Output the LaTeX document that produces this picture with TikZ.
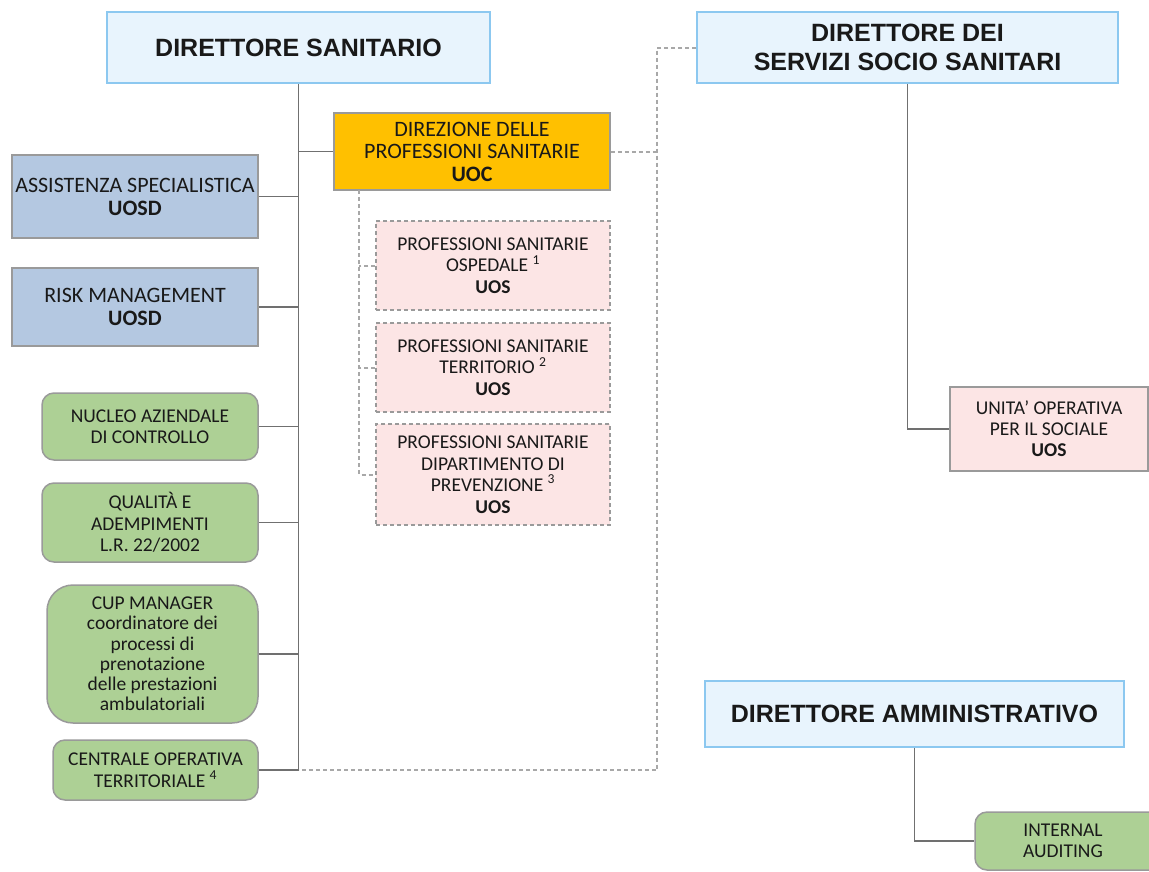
\documentclass[tikz,border=0pt]{standalone}
\usepackage{fontspec}
\setmainfont{Carlito}
\newfontfamily\dirfont{Liberation Sans}
\definecolor{dirfill}{HTML}{E8F4FD}
\definecolor{dirline}{HTML}{8CC8F0}
\definecolor{orangefill}{HTML}{FFC000}
\definecolor{uosdfill}{HTML}{B4C8E1}
\definecolor{greenfill}{HTML}{ADD095}
\definecolor{pinkfill}{HTML}{FCE5E5}
\definecolor{boxline}{HTML}{9A9A9A}
\definecolor{linkcol}{HTML}{707070}
\definecolor{dlinkcol}{HTML}{A8A8A8}
\begin{document}
\begin{tikzpicture}[x=1pt,y=-1pt,
  base/.style={inner sep=0pt, align=center, text=black!90},
  dirbox/.style={base, draw=dirline, fill=dirfill, line width=2pt,
     font=\dirfont\bfseries\fontsize{25}{29}\selectfont},
  uosdbox/.style={base, draw=boxline, fill=uosdfill, line width=1.5pt,
     font=\fontsize{22}{23}\selectfont},
  uocbox/.style={base, draw=boxline, fill=orangefill, line width=1.5pt,
     font=\fontsize{22}{22.5}\selectfont},
  greenbox/.style={base, draw=boxline, fill=greenfill, line width=1.5pt,
     rounded corners=12pt, font=\fontsize{19.5}{21.5}\selectfont},
  psbox/.style={base, draw=boxline, fill=pinkfill, line width=1.5pt,
     dash pattern=on 4pt off 3pt, font=\fontsize{19.5}{21.5}\selectfont},
  uosbox/.style={base, draw=boxline, fill=pinkfill, line width=1.5pt,
     font=\fontsize{19.5}{21}\selectfont},
  link/.style={draw=linkcol, line width=1.6pt},
  dlink/.style={draw=dlinkcol, line width=2pt, dash pattern=on 4pt off 3pt}
]
\useasboundingbox[fill=white] (0,0) rectangle (1149,871);

% directors
\node[dirbox, minimum width=383pt, minimum height=71pt] (ds) at (298.5,47.5) {DIRETTORE SANITARIO};
\node[dirbox, minimum width=421pt, minimum height=71pt] (dsss) at (907.5,47.5) {DIRETTORE DEI\\SERVIZI SOCIO SANITARI};
\node[dirbox, minimum width=419pt, minimum height=66pt] (da) at (914.5,714) {DIRETTORE AMMINISTRATIVO};

% direzione professioni sanitarie
\node[uocbox, minimum width=276pt, minimum height=77pt] (dps) at (472,151.5) {DIREZIONE DELLE\\PROFESSIONI SANITARIE\\\textbf{UOC}};

% UOSD
\node[uosdbox, minimum width=246pt, minimum height=83pt] (ass) at (135,196.5) {ASSISTENZA SPECIALISTICA\\\textbf{UOSD}};
\node[uosdbox, minimum width=246pt, minimum height=78pt] (risk) at (135,307) {RISK MANAGEMENT\\\textbf{UOSD}};

% green staff boxes
\node[greenbox, minimum width=216pt, minimum height=67pt] (nuc) at (150,426.5) {NUCLEO AZIENDALE\\DI CONTROLLO};
\node[greenbox, minimum width=216pt, minimum height=79pt] (qual) at (150,522.5) {QUALITÀ E\\ADEMPIMENTI\\L.R. 22/2002};
\node[greenbox, rounded corners=26pt, minimum width=211pt, minimum height=138pt,
      font=\fontsize{19.5}{20.2}\selectfont] (cup) at (152.5,654) {CUP MANAGER\\coordinatore dei\\processi di\\prenotazione\\delle prestazioni\\ambulatoriali};
\node[greenbox, minimum width=205pt, minimum height=60pt] (cot) at (155.5,770) {CENTRALE OPERATIVA\\TERRITORIALE \textsuperscript{4}};

% professioni sanitarie UOS
\node[psbox, minimum width=234pt, minimum height=89pt] (pso) at (493,265.5) {PROFESSIONI SANITARIE\\OSPEDALE \textsuperscript{1}\\\textbf{UOS}};
\node[psbox, minimum width=234pt, minimum height=89pt] (pst) at (493,367.5) {PROFESSIONI SANITARIE\\TERRITORIO \textsuperscript{2}\\\textbf{UOS}};
\node[psbox, minimum width=234pt, minimum height=101pt] (psd) at (493,474.5) {PROFESSIONI SANITARIE\\DIPARTIMENTO DI\\PREVENZIONE \textsuperscript{3}\\\textbf{UOS}};

% sociale
\node[uosbox, minimum width=198pt, minimum height=84pt] (uos) at (1049,429) {UNITA’ OPERATIVA\\PER IL SOCIALE\\\textbf{UOS}};

% internal auditing (runs past the right edge of the page)
\node[greenbox, minimum width=194pt, minimum height=58pt] (ia) at (1072,841) {\hspace*{-18pt}INTERNAL\\\hspace*{-18pt}AUDITING};

% helper coordinates
\coordinate (jtop) at (657,47.5);
\coordinate (jbot) at (657,770);
\coordinate (dpsx) at (359,190);

% solid hierarchy of direttore sanitario
\draw[link] (ds.south) -- (ds.south |- cot.east) -- (cot.east);
\draw[link] (dps.west) -- (dps.west -| ds.south);
\draw[link] (ass.east) -- (ass.east -| ds.south);
\draw[link] (risk.east) -- (risk.east -| ds.south);
\draw[link] (nuc.east) -- (nuc.east -| ds.south);
\draw[link] (qual.east) -- (qual.east -| ds.south);
\draw[link] (cup.east) -- (cup.east -| ds.south);

% dashed functional links
\draw[dlink] (dsss.west) -- (jtop) -- (jbot) -- (jbot -| ds.south);
\draw[dlink] (dps.east) -- (dps.east -| jtop);
\draw[dlink] (dpsx) -- (dpsx |- psd.west) -- (psd.west);
\draw[dlink] (pso.west) -- (pso.west -| dpsx);
\draw[dlink] (pst.west) -- (pst.west -| dpsx);

% other directors
\draw[link] (dsss.south) |- (uos.west);
\draw[link] (da.south) |- (ia.west);
\end{tikzpicture}
\end{document}
